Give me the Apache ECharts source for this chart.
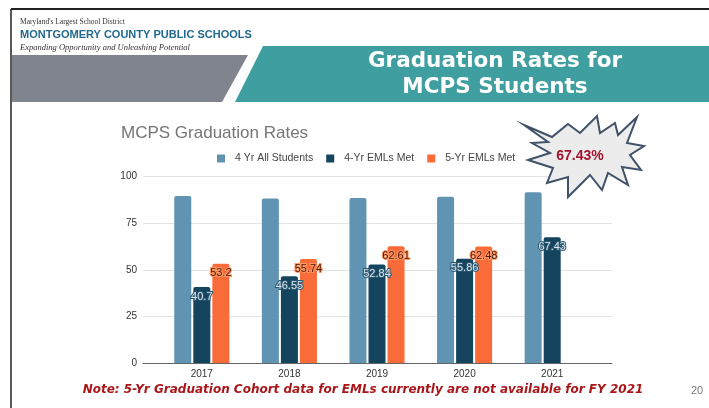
<!DOCTYPE html>
<html>
<head>
<meta charset="utf-8">
<script src="https://cdn.jsdelivr.net/npm/echarts@6/dist/echarts.min.js"></script>
<style>
	html, body { margin: 0; padding: 0; background: #fff; }
	#chart { width: 709px; height: 408px; }
</style>
</head>
<body>
<div id="chart"></div>
<script>
	// values
	var years = ['2017', '2018', '2019', '2020', '2021']
	var allStudents = [89.6, 88.2, 88.5, 89.1, 91.5]
	var emls4yr = [40.7, 46.55, 52.84, 55.86, 67.43]
	var emls5yr = [53.2, 55.74, 62.61, 62.48, null]
	var seriesNames = ['4 Yr All Students', '4-Yr EMLs Met', '5-Yr EMLs Met']
	var colors = ['#6094b2', '#14445e', '#f96b38']

	var font = 'Liberation Sans, Arial, sans-serif'
	var dom = echarts.init(document.getElementById('chart'))

	var barLabel = function (color, border) {
		return {
			show: true,
			position: 'insideTop',
			distance: 4,
			fontFamily: font,
			fontSize: 11,
			color: color,
			textBorderColor: border,
			textBorderWidth: 2
		}
	}

	var option = {
		animation: false,
		backgroundColor: '#fff',
		legend: {
			data: seriesNames,
			left: 212,
			top: 148,
			itemWidth: 8,
			itemHeight: 8,
			itemGap: 13,
			icon: 'rect',
			textStyle: {
				fontFamily: font,
				fontSize: 10.5,
				color: '#444',
				padding: [0, 0, 0, 5]
			}
		},
		grid: [
			// bars
			{ left: 158, right: 113, top: 176.5, bottom: 45 },
			// gridlines + y labels, wider like the sheet chart
			{ left: 143, right: 97, top: 176.5, bottom: 45 }
		],
		xAxis: [{
			type: 'category',
			gridIndex: 0,
			data: years,
			axisLine: { show: false },
			axisTick: { show: false },
			axisLabel: {
				margin: 6,
				fontFamily: font,
				fontSize: 10,
				color: '#333'
			}
		}, {
			type: 'value',
			gridIndex: 1,
			min: 0,
			max: 1,
			axisLine: { show: true, lineStyle: { color: '#666', width: 1 } },
			axisTick: { show: false },
			axisLabel: { show: false },
			splitLine: { show: false }
		}],
		yAxis: [{
			type: 'value',
			gridIndex: 0,
			min: 0,
			max: 100,
			show: false
		}, {
			type: 'value',
			gridIndex: 1,
			min: 0,
			max: 100,
			interval: 25,
			axisLine: { show: false },
			axisTick: { show: false },
			axisLabel: {
				margin: 6,
				fontFamily: font,
				fontSize: 10,
				color: '#333'
			},
			splitLine: { lineStyle: { color: '#e3e3e3', width: 1 } }
		}],
		series: [{
			name: seriesNames[0],
			type: 'bar',
			data: allStudents,
			barWidth: 17,
			barGap: '12%',
			itemStyle: { color: colors[0], borderRadius: [2, 2, 0, 0] }
		}, {
			name: seriesNames[1],
			type: 'bar',
			data: emls4yr,
			barWidth: 17,
			barGap: '12%',
			itemStyle: { color: colors[1], borderRadius: [2, 2, 0, 0] },
			label: barLabel('#dce8ef', '#2a5670')
		}, {
			name: seriesNames[2],
			type: 'bar',
			data: emls5yr,
			barWidth: 17,
			barGap: '12%',
			itemStyle: { color: colors[2], borderRadius: [2, 2, 0, 0] },
			label: barLabel('#4a1606', '#ff9a66')
		}],
		graphic: [
			// slide frame
			{ type: 'line', z: 1, shape: { x1: 11, y1: 9, x2: 709, y2: 9 }, style: { stroke: '#222', lineWidth: 2 } },
			{ type: 'line', z: 1, shape: { x1: 11, y1: 9, x2: 11, y2: 408 }, style: { stroke: '#222', lineWidth: 1.5 } },
			// header
			{ type: 'text', z: 5, left: 20, top: 18, style: { text: "Maryland's Largest School District", font: '7.5px "Liberation Serif", serif', fill: '#333' } },
			{ type: 'text', z: 5, left: 20, top: 29, style: { text: 'MONTGOMERY COUNTY PUBLIC SCHOOLS', font: 'bold 11px "Liberation Sans", Arial, sans-serif', fill: '#22698e' } },
			{ type: 'text', z: 5, left: 20, top: 43, style: { text: 'Expanding Opportunity and Unleashing Potential', font: 'italic 8.5px "Liberation Serif", serif', fill: '#333' } },
			{ type: 'polygon', z: 1, shape: { points: [[12, 55], [248, 55], [222, 102], [12, 102]] }, style: { fill: '#7f848d' } },
			{ type: 'polygon', z: 1, shape: { points: [[263, 46], [709, 46], [709, 102], [235, 102]] }, style: { fill: '#3f9fa0' } },
			{ type: 'text', z: 5, x: 495, y: 61, style: { text: 'Graduation Rates for', font: 'bold 21.5px "DejaVu Sans", Verdana, sans-serif', fill: '#fff', align: 'center', verticalAlign: 'middle' } },
			{ type: 'text', z: 5, x: 495, y: 87, style: { text: 'MCPS Students', font: 'bold 21.5px "DejaVu Sans", Verdana, sans-serif', fill: '#fff', align: 'center', verticalAlign: 'middle' } },
			// chart title
			{ type: 'text', z: 5, x: 121, y: 133, style: { text: 'MCPS Graduation Rates', font: '17px "Liberation Sans", Arial, sans-serif', fill: '#757575', verticalAlign: 'middle' } },
			// starburst callout
			{
				type: 'polygon', z: 20,
				shape: {
					points: [[524, 125], [552, 137], [568, 124], [580, 133], [597, 116], [600, 133], [615, 123], [618, 135],
						[637, 117], [627, 143], [644, 146], [630, 155], [641, 170], [622, 167], [628, 185], [608, 173],
						[602, 190], [590, 175], [568, 197], [568, 177], [547, 183], [553, 168], [528, 160], [550, 153],
						[532, 143], [548, 142]]
				},
				style: { fill: '#ececec', stroke: '#3f5168', lineWidth: 2, lineJoin: 'miter' }
			},
			{ type: 'text', z: 21, x: 580, y: 156, style: { text: '67.43%', font: 'bold 14px "Liberation Sans", Arial, sans-serif', fill: '#a3132b', align: 'center', verticalAlign: 'middle' } },
			// footnote + page number
			{ type: 'text', z: 5, x: 363, y: 390, style: { text: 'Note: 5-Yr Graduation Cohort data for EMLs currently are not available for FY 2021', font: 'italic bold 12px "DejaVu Sans", Verdana, sans-serif', fill: '#a8161a', align: 'center', verticalAlign: 'middle' } },
			{ type: 'text', z: 5, x: 691, y: 391, style: { text: '20', font: '11px "Liberation Sans", Arial, sans-serif', fill: '#777', verticalAlign: 'middle' } }
		]
	}

	dom.setOption(option)
	window.addEventListener('resize', function () { dom.resize() })
</script>
</body>
</html>
